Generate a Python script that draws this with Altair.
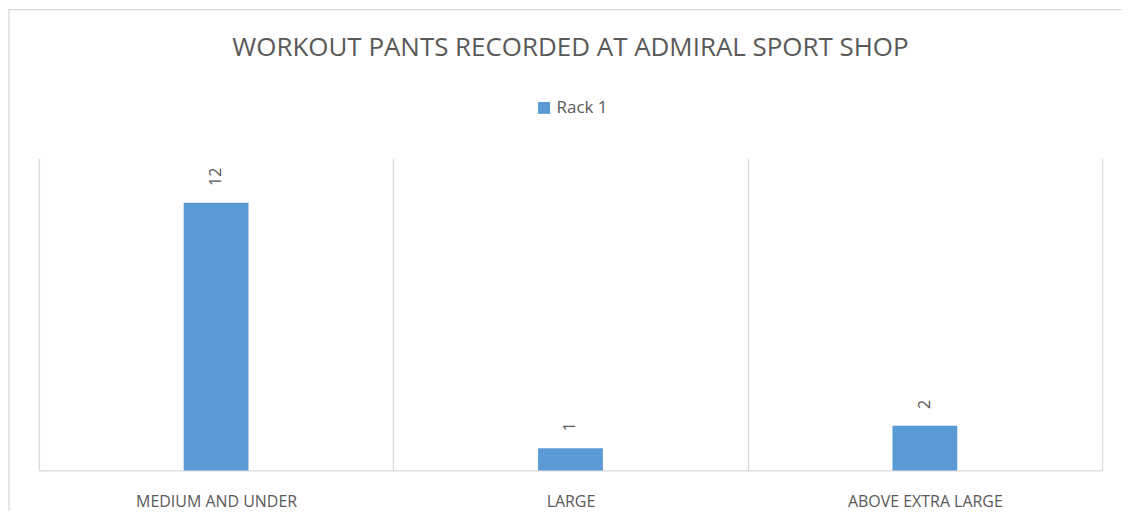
import altair as alt
import pandas as pd

categories = ["MEDIUM AND UNDER", "LARGE", "ABOVE EXTRA LARGE"]
values = [12, 1, 2]
series_name = "Rack 1"
title_text = "WORKOUT PANTS RECORDED AT ADMIRAL SPORT SHOP"

df = pd.DataFrame({
    "category": categories,
    "value": values,
    "series": [series_name] * len(categories),
})

W, H = 1066, 313
FONT = "Open Sans"
TXT = "#595959"
GRID = "#d9d9d9"
BAR = "#5b9bd5"

x_enc = alt.X(
    "category:N", sort=categories, title=None,
    scale=alt.Scale(paddingInner=0, paddingOuter=0),
    axis=alt.Axis(
        grid=True, tickBand="extent", gridColor=GRID, gridWidth=1.3,
        domainColor=GRID, domainWidth=1.3, ticks=False, tickSize=0,
        labelAngle=0, labelFont=FONT, labelFontSize=16, labelColor=TXT,
        labelPadding=23,
    ),
)
y_enc = alt.Y("value:Q", scale=alt.Scale(domain=[0, 14]), axis=None)

bars = alt.Chart(df).mark_bar(width=65).encode(
    x=x_enc,
    y=y_enc,
    color=alt.Color(
        "series:N",
        scale=alt.Scale(range=[BAR]),
        legend=alt.Legend(
            title=None, orient="none", legendX=498, legendY=-59,
            symbolType="square", symbolSize=144, symbolStrokeWidth=0,
            labelFont=FONT, labelFontSize=17, labelColor=TXT,
            labelOffset=4, padding=0,
        ),
    ),
)

labels = alt.Chart(df).mark_text(
    angle=270, align="left", baseline="middle", yOffset=-17,
    font=FONT, fontSize=16, color=TXT,
).encode(x=x_enc, y=y_enc, text="value:Q")

title = alt.Chart(pd.DataFrame({"t": [title_text]})).mark_text(
    font=FONT, fontSize=26, color=TXT, align="center", baseline="middle",
).encode(text="t:N", x=alt.value(W / 2), y=alt.value(-110.5))

border = alt.Chart(pd.DataFrame({"d": [0]})).mark_rect(
    filled=False, stroke=GRID, strokeWidth=1.3,
).encode(x=alt.value(-30), x2=alt.value(1100), y=alt.value(-149), y2=alt.value(400))

chart = alt.layer(border, bars, labels, title).properties(
    width=W, height=H,
    background="white",
    autosize=alt.AutoSizeParams(type="none"),
    padding={"left": 31, "top": 150, "right": 20, "bottom": 40},
).configure_view(strokeWidth=0, stroke="transparent")

chart.save("out.html", embed_options={"renderer": "svg", "actions": False})
